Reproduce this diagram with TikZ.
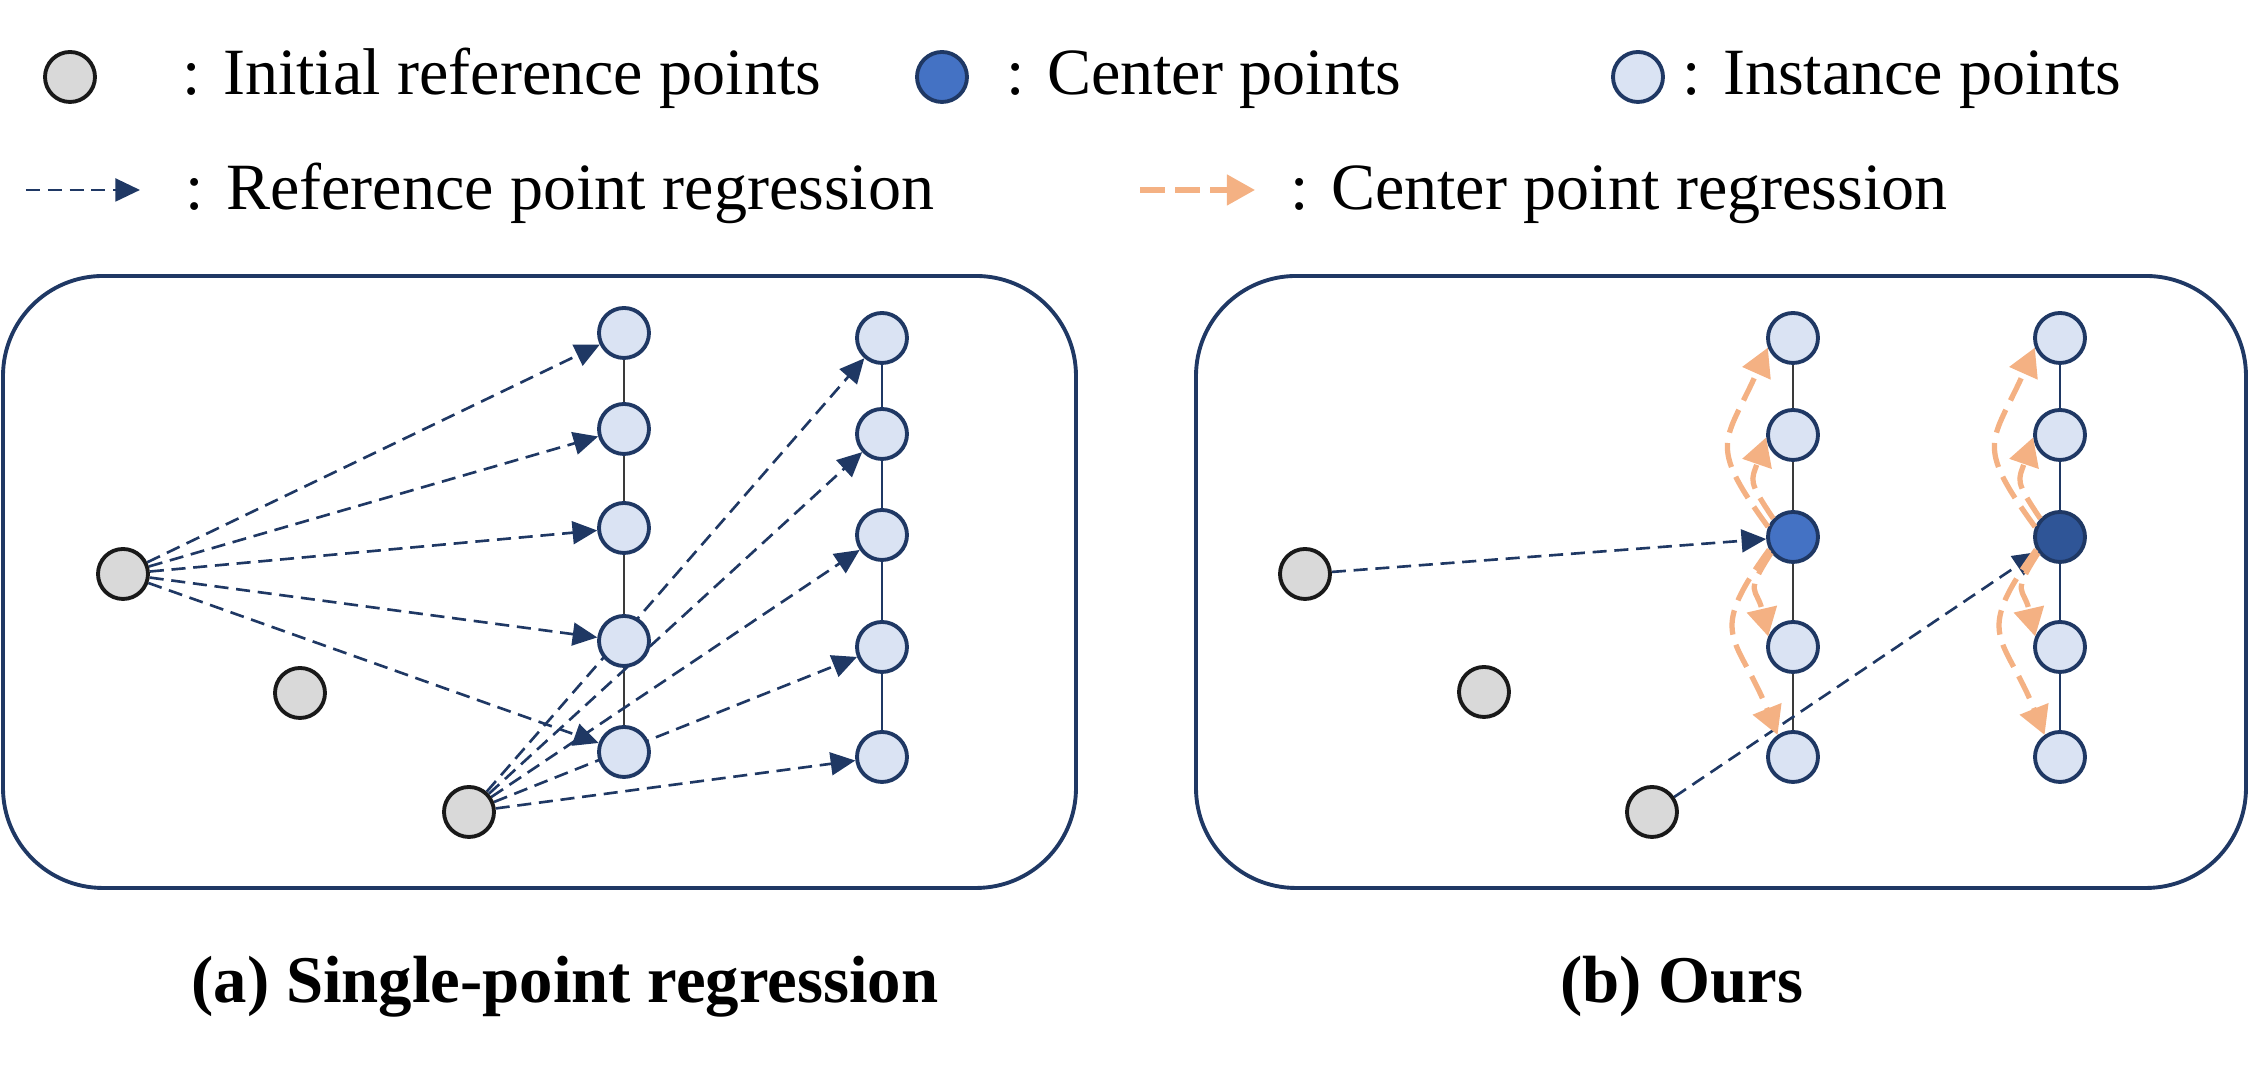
\documentclass[tikz,border=0pt]{standalone}
\usepackage{fontspec}
\setmainfont{Liberation Serif}
\usetikzlibrary{arrows.meta,backgrounds}

\definecolor{navy}{HTML}{1F3864}
\definecolor{instfill}{HTML}{DAE3F3}
\definecolor{ctrA}{HTML}{4472C4}
\definecolor{ctrB}{HTML}{2F5597}
\definecolor{refgray}{HTML}{D9D9D9}
\definecolor{regorange}{HTML}{F4B183}
\definecolor{linegray}{HTML}{3A3A3A}

\begin{document}
\begin{tikzpicture}[font=\fontsize{18.8}{23}\selectfont]
\tikzstyle{refpt} = [shape=circle, fill=refgray, draw=black!90, line width=1.1pt, minimum size=0.5cm, inner sep=0pt]
\tikzstyle{instpt} = [shape=circle, fill=instfill, draw=navy, line width=1.1pt, minimum size=0.5cm, inner sep=0pt]
\tikzstyle{ctrpt} = [instpt, fill=ctrA]
\tikzstyle{legtext} = [anchor=base west, inner sep=0pt]
\tikzstyle{caption} = [anchor=base, font=\fontsize{19}{23}\selectfont\bfseries]
\tikzstyle{refarrow} = [navy, line width=0.75pt, dash pattern=on 4pt off 2.2pt, -{Triangle[length=7pt,width=6.5pt]}]
\tikzstyle{ctrarrow} = [regorange, line width=1.5pt, dash pattern=on 7pt off 3pt, -{Triangle[length=8pt,width=8.5pt]}]
\tikzstyle{panelbox} = [draw=navy, line width=1.1pt, rounded corners=1cm]
\tikzstyle{colline} = [line width=0.6pt]

\useasboundingbox (0,0) rectangle (22.53,10.75);

% legend
\node[refpt] (lg1) at (0.70,9.98) {};
\node[legtext] (lt1) at (1.82,9.80) {: Initial reference points};
\node[ctrpt] (lg2) at (9.42,9.98) {};
\node[legtext] (lt2) at (10.06,9.80) {: Center points};
\node[instpt] (lg3) at (16.38,9.98) {};
\node[legtext] (lt3) at (16.82,9.80) {: Instance points};

\coordinate (la1) at (0.26,8.85);
\coordinate (la2) at (1.40,8.85);
\draw[refarrow] (la1) -- (la2);
\node[legtext] (lt4) at (1.85,8.65) {: Reference point regression};
\coordinate (lb1) at (11.40,8.85);
\coordinate (lb2) at (12.55,8.85);
\draw[ctrarrow] (lb1) -- (lb2);
\node[legtext] (lt5) at (12.90,8.65) {: Center point regression};

% (a) single-point regression
\draw[panelbox] (0.03,1.87) rectangle (10.76,7.99);

\node[refpt] (ra1) at (1.23,5.01) {};
\node[refpt] (ra2) at (3.00,3.82) {};
\node[refpt] (ra3) at (4.69,2.63) {};

\node[instpt] (p1) at (6.24,7.42) {};
\node[instpt] (p2) at (6.24,6.46) {};
\node[instpt] (p3) at (6.24,5.47) {};
\node[instpt] (p4) at (6.24,4.34) {};
\node[instpt] (p5) at (6.24,3.23) {};

\node[instpt] (q1) at (8.82,7.37) {};
\node[instpt] (q2) at (8.82,6.41) {};
\node[instpt] (q3) at (8.82,5.40) {};
\node[instpt] (q4) at (8.82,4.28) {};
\node[instpt] (q5) at (8.82,3.18) {};

\begin{scope}[on background layer]
\draw[colline, linegray] (p1) -- (p2) -- (p3) -- (p4) -- (p5);
\draw[colline, navy] (q1) -- (q2) -- (q3) -- (q4) -- (q5);
\draw[refarrow] (ra1) -- (p1);
\draw[refarrow] (ra1) -- (p2);
\draw[refarrow] (ra1) -- (p3);
\draw[refarrow] (ra1) -- (p4);
\draw[refarrow] (ra1) -- (p5);
\draw[refarrow] (ra3) -- (q1);
\draw[refarrow] (ra3) -- (q2);
\draw[refarrow] (ra3) -- (q3);
\draw[refarrow] (ra3) -- (q4);
\draw[refarrow] (ra3) -- (q5);
\end{scope}

\node[caption] (capa) at (5.65,0.72) {(a) Single-point regression};

% (b) ours
\draw[panelbox] (11.96,1.87) rectangle (22.46,7.99);

\node[refpt] (rb1) at (13.05,5.01) {};
\node[refpt] (rb2) at (14.84,3.83) {};
\node[refpt] (rb3) at (16.52,2.63) {};

\node[instpt] (s1) at (17.93,7.37) {};
\node[instpt] (s2) at (17.93,6.40) {};
\node[ctrpt] (s3) at (17.93,5.38) {};
\node[instpt] (s4) at (17.93,4.28) {};
\node[instpt] (s5) at (17.93,3.18) {};

\node[instpt] (t1) at (20.60,7.37) {};
\node[instpt] (t2) at (20.60,6.40) {};
\node[ctrpt, fill=ctrB] (t3) at (20.60,5.38) {};
\node[instpt] (t4) at (20.60,4.28) {};
\node[instpt] (t5) at (20.60,3.18) {};

\begin{scope}[on background layer]
\draw[colline, linegray] (s1) -- (s2) -- (s3) -- (s4) -- (s5);
\draw[colline, navy] (t1) -- (t2) -- (t3) -- (t4) -- (t5);
\draw[refarrow] (rb1) -- (s3);
\draw[refarrow] (rb3) -- (t3);
\end{scope}

\draw[ctrarrow] (s3.158) to[out=126,in=246,looseness=1.5] (s1.201);
\draw[ctrarrow] (s3.137) to[out=124,in=251,looseness=1.45] (s2.185);
\draw[ctrarrow] (s3.216) to[out=237,in=103,looseness=1.55] (s4.157);
\draw[ctrarrow] (s3.208) to[out=234,in=112,looseness=1.5] (s5.125);

\draw[ctrarrow] (t3.158) to[out=126,in=246,looseness=1.5] (t1.201);
\draw[ctrarrow] (t3.137) to[out=124,in=251,looseness=1.45] (t2.185);
\draw[ctrarrow] (t3.216) to[out=237,in=103,looseness=1.55] (t4.157);
\draw[ctrarrow] (t3.208) to[out=234,in=112,looseness=1.5] (t5.125);

\node[caption] (capb) at (16.82,0.72) {(b) Ours};

\end{tikzpicture}
\end{document}
